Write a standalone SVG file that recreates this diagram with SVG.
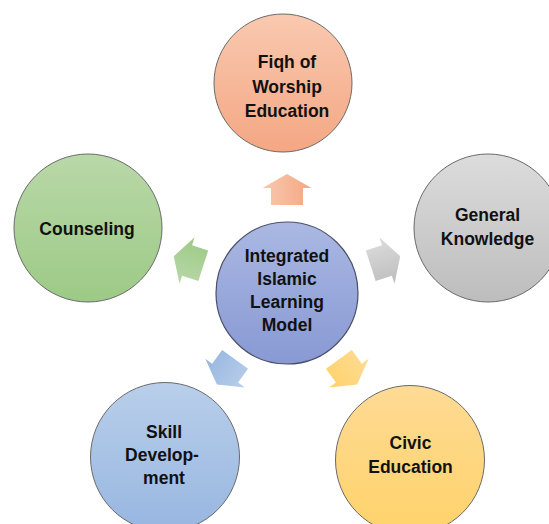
<svg xmlns="http://www.w3.org/2000/svg" width="549" height="524" viewBox="0 0 549 524">
<defs>
<linearGradient id="gOr" x1="0" y1="0" x2="0" y2="1"><stop offset="0" stop-color="#f9c9b0"/><stop offset="1" stop-color="#f4a783"/></linearGradient>
<linearGradient id="gGr" x1="0" y1="0" x2="0" y2="1"><stop offset="0" stop-color="#dcdcdc"/><stop offset="1" stop-color="#bdbdbd"/></linearGradient>
<linearGradient id="gYe" x1="0" y1="0" x2="0" y2="1"><stop offset="0" stop-color="#fedb95"/><stop offset="1" stop-color="#ffd26a"/></linearGradient>
<linearGradient id="gBl" x1="0" y1="0" x2="0" y2="1"><stop offset="0" stop-color="#b9cfea"/><stop offset="1" stop-color="#97b6e0"/></linearGradient>
<linearGradient id="gGn" x1="0" y1="0" x2="0" y2="1"><stop offset="0" stop-color="#b9d8a8"/><stop offset="1" stop-color="#9dca86"/></linearGradient>
<linearGradient id="gCe" x1="0" y1="0" x2="0" y2="1"><stop offset="0" stop-color="#aab8e2"/><stop offset="1" stop-color="#8899d4"/></linearGradient>
<path id="arr" d="M-15.5,-16 H1.5 V-24.5 L15.5,0 L1.5,24.5 V16 H-15.5 Z"/>
</defs>
<style>
.node{stroke:#6a6a6a;stroke-width:1}
.center{stroke:#4a4f66;stroke-width:1.2}
.lbl{font-family:"Liberation Sans",Arial,sans-serif;font-weight:bold;font-size:17.5px;fill:#111;text-anchor:middle}
</style>
<rect width="549" height="524" fill="#ffffff"/>
<g id="connectors">
<use href="#arr" fill="url(#gOr)" transform="translate(287,189.5) rotate(-90)"/>
<use href="#arr" fill="url(#gGr)" transform="translate(385.5,261) rotate(-18)"/>
<use href="#arr" fill="url(#gYe)" transform="translate(348,372) rotate(54)"/>
<use href="#arr" fill="url(#gBl)" transform="translate(226,372) rotate(126)"/>
<use href="#arr" fill="url(#gGn)" transform="translate(188.5,261) rotate(198)"/>
</g>
<g id="center">
<circle class="center" cx="287" cy="293" r="71" fill="url(#gCe)"/>
<text class="lbl"><tspan x="287" y="262">Integrated</tspan><tspan x="287" y="285">Islamic</tspan><tspan x="287" y="308">Learning</tspan><tspan x="287" y="331">Model</tspan></text>
</g>
<g id="fiqh">
<circle class="node" cx="283" cy="83" r="69" fill="url(#gOr)"/>
<text class="lbl"><tspan x="287" y="68">Fiqh of</tspan><tspan x="287" y="93">Worship</tspan><tspan x="287" y="117">Education</tspan></text>
</g>
<g id="general">
<circle class="node" cx="488" cy="228" r="74" fill="url(#gGr)"/>
<text class="lbl"><tspan x="487.5" y="221">General</tspan><tspan x="487.5" y="245">Knowledge</tspan></text>
</g>
<g id="civic">
<circle class="node" cx="410" cy="460" r="74.5" fill="url(#gYe)"/>
<text class="lbl"><tspan x="410.5" y="449">Civic</tspan><tspan x="410.5" y="473">Education</tspan></text>
</g>
<g id="skill">
<circle class="node" cx="165" cy="457" r="74.5" fill="url(#gBl)"/>
<text class="lbl"><tspan x="164" y="438">Skill</tspan><tspan x="162" y="461">Develop-</tspan><tspan x="164" y="484">ment</tspan></text>
</g>
<g id="counseling">
<circle class="node" cx="88" cy="228" r="74" fill="url(#gGn)"/>
<text class="lbl" x="87" y="235">Counseling</text>
</g>
</svg>
